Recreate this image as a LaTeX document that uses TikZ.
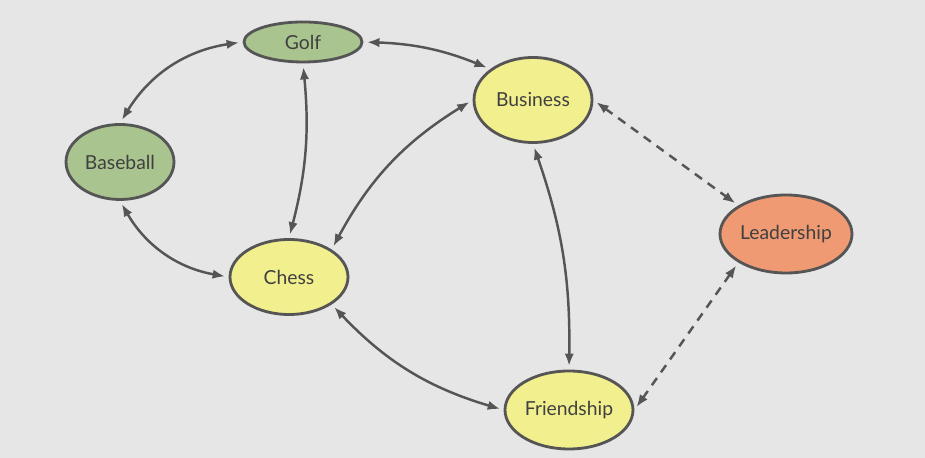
\documentclass[tikz,border=0pt]{standalone}
\usepackage{fontspec}
\setmainfont{Lato}
\usetikzlibrary{shapes.geometric,arrows.meta}
\definecolor{bgcol}{HTML}{E6E6E6}
\definecolor{edgecol}{HTML}{555555}
\definecolor{greenish}{HTML}{A9C48E}
\definecolor{yellowish}{HTML}{F2EF8E}
\definecolor{orangish}{HTML}{EF9A73}
\tikzset{
  blob/.style={ellipse,draw=edgecol,line width=1.6pt,font=\fontsize{11}{13}\selectfont,text=black!75,inner sep=0pt},
  link/.style={{Latex[length=2.5mm]}-{Latex[length=2.5mm]},draw=edgecol,line width=1.4pt,shorten <=2pt,shorten >=2pt},
  weak/.style={link,dashed,dash pattern=on 5pt off 4pt}
}
\begin{document}
\begin{tikzpicture}
  \fill[bgcol] (0,0) rectangle (18.5,9.16);
  \node[blob,fill=greenish,minimum width=2.36cm,minimum height=0.8cm] (golf) at (6.06,8.32) {Golf};
  \node[blob,fill=yellowish,minimum width=2.36cm,minimum height=1.7cm] (business) at (10.66,7.16) {Business};
  \node[blob,fill=greenish,minimum width=2.16cm,minimum height=1.5cm] (baseball) at (2.4,5.92) {Baseball};
  \node[blob,fill=yellowish,minimum width=2.36cm,minimum height=1.5cm] (chess) at (5.78,3.62) {Chess};
  \node[blob,fill=orangish,minimum width=2.64cm,minimum height=1.56cm] (leadership) at (15.72,4.48) {Leadership};
  \node[blob,fill=yellowish,minimum width=2.56cm,minimum height=1.56cm] (friendship) at (11.38,0.96) {Friendship};
  % links
  \draw[link] (golf.west) to[bend right=25] (baseball.north);
  \draw[link] (golf.east) to[bend left=10] (business.north west);
  \draw[link] (golf.south) to[bend left=10] (chess.north);
  \draw[link] (baseball.south) to[bend right=25] (chess.west);
  \draw[link] (business.west) to[bend right=15] (chess.north east);
  \draw[link] (business.south) to[bend left=10] (friendship.north);
  \draw[link] (chess.south east) to[bend right=15] (friendship.west);
  \draw[weak] (business.east) -- (leadership.north west);
  \draw[weak] (leadership.south west) -- (friendship.east);
\end{tikzpicture}
\end{document}
